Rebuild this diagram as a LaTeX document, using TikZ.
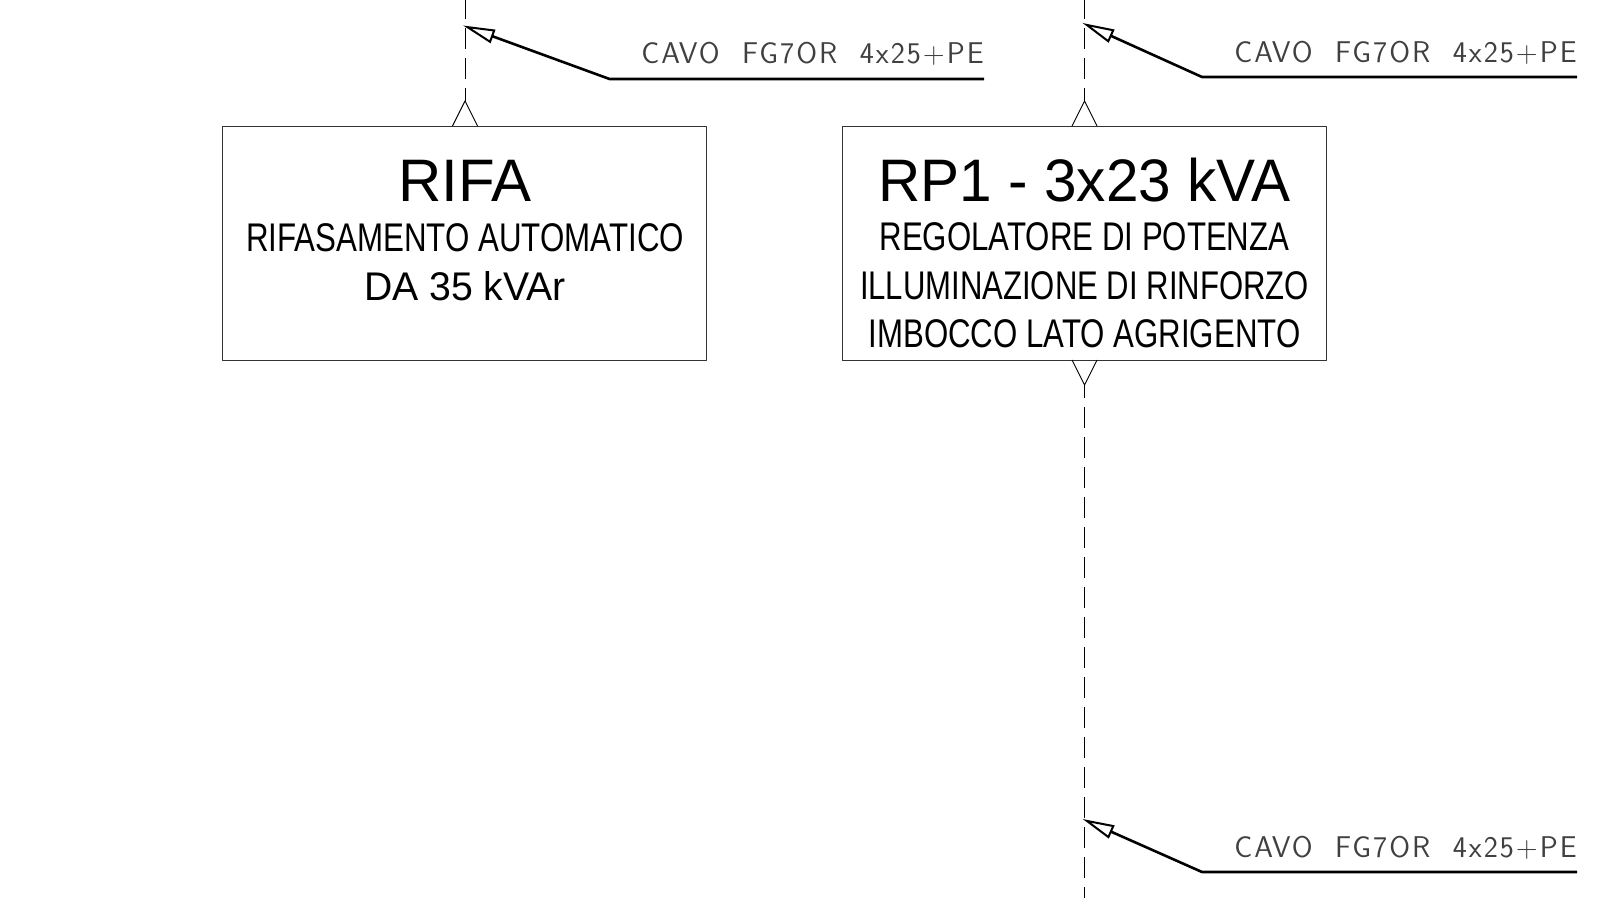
\documentclass[tikz,border=0pt]{standalone}
\usepackage{fontspec}
\setmainfont{Liberation Sans}
\newfontfamily\cavofont[LetterSpace=6.5]{Latin Modern Sans}
\usetikzlibrary{arrows.meta}
\tikzset{
  quadro/.style={draw=black!80, line width=0.45pt},
  titolo/.style={anchor=base, font=\fontsize{30}{30}\selectfont, inner sep=0pt},
  sotto/.style={anchor=base, font=\fontsize{20}{20}\selectfont, inner sep=0pt},
  cavo/.style={anchor=base east, font=\cavofont\fontsize{15}{15}\selectfont, text=black!75, inner sep=0pt},
  linea/.style={line width=0.45pt, dash pattern=on 10.5pt off 4.5pt, dash phase=4pt},
  freccia/.style={line width=1.3pt, -{Triangle[open,length=16pt,width=7pt,line width=1pt]}},
}
\begin{document}
\begin{tikzpicture}[line cap=butt, line join=round, x=0.5pt, y=-0.5pt]
  \useasboundingbox (0,0) rectangle (1603,898);
  % quadri
  \draw[quadro] (222.5,126) rectangle (706.5,360);
  \draw[quadro] (842.5,126) rectangle (1326,360);
  \draw (465,202) node[titolo] (rifa) {RIFA};
  \draw (465,251.5) node[sotto] (rifadue) {\scalebox{0.782}[1]{RIFASAMENTO AUTOMATICO}};
  \draw (465,300.5) node[sotto] (rifatre) {\scalebox{0.98}[1]{DA 35 kVAr}};
  \draw (1084.5,202) node[titolo] (rp) {\scalebox{0.975}[1]{RP1 - 3x23 kVA}};
  \draw (1084.5,251) node[sotto] (rpdue) {\scalebox{0.78}[1]{REGOLATORE DI POTENZA}};
  \draw (1084.5,300) node[sotto] (rptre) {\scalebox{0.777}[1]{ILLUMINAZIONE DI RINFORZO}};
  \draw (1084.5,348) node[sotto] (rpquattro) {\scalebox{0.78}[1]{IMBOCCO LATO AGRIGENTO}};
  % morsetti e linee
  \draw[line width=0.45pt] (452.5,126) -- (465,101) -- (477.5,126);
  \draw[line width=0.45pt] (1072,126) -- (1084.5,101) -- (1097,126);
  \draw[line width=0.45pt] (1072,360) -- (1084.5,385) -- (1097,360);
  \coordinate (a0) at (465,0);
  \coordinate (a1) at (465,101);
  \coordinate (b0) at (1084.5,0);
  \coordinate (b1) at (1084.5,101);
  \coordinate (c0) at (1084.5,385);
  \coordinate (c1) at (1084.5,898);
  \draw[linea] (a1) -- (a0);
  \draw[linea] (b1) -- (b0);
  \draw[linea] (c0) -- (c1);
  % cavi
  \coordinate (ta) at (463,25.5);
  \coordinate (ka) at (609.5,79);
  \coordinate (ea) at (984,79);
  \coordinate (tb) at (1082.5,23);
  \coordinate (kb) at (1202,77);
  \coordinate (eb) at (1577,77);
  \coordinate (tc) at (1082.5,819);
  \coordinate (kc) at (1202,872);
  \coordinate (ec) at (1577,872);
  \draw[freccia] (ea) -- (ka) -- (ta);
  \draw[freccia] (eb) -- (kb) -- (tb);
  \draw[freccia] (ec) -- (kc) -- (tc);
  \draw (984,63.5) node[cavo] (cavoa) {CAVO\ \ FG7OR\ \ 4x25+PE};
  \draw (1577,62.5) node[cavo] (cavob) {CAVO\ \ FG7OR\ \ 4x25+PE};
  \draw (1577,857.5) node[cavo] (cavoc) {CAVO\ \ FG7OR\ \ 4x25+PE};
\end{tikzpicture}
\end{document}
